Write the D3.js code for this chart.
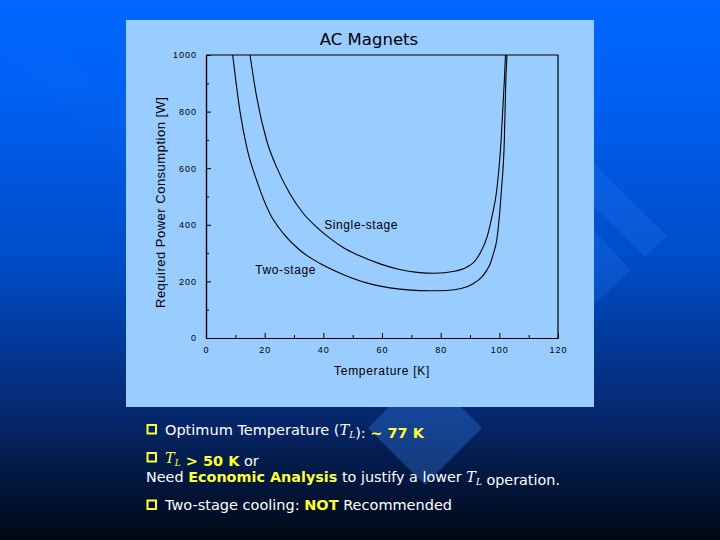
<!DOCTYPE html>
<html>
<head>
<meta charset="utf-8">
<script src="https://cdn.jsdelivr.net/npm/d3@7"></script>
<style>
  body { margin: 0; background: #000; }
  svg { display: block; }
  .tick text { font-family: "Liberation Sans", Arial, sans-serif; }
</style>
</head>
<body>
<script>
var width = 720,
    height = 540;

// chart data
var title = "AC Magnets";
var seriesNames = ["Single-stage", "Two-stage"];
var singleTemp = [15, 17.3, 20.7, 24.1, 28.6, 33.2, 37.7, 42.3, 47, 51.8, 59.6, 66, 72, 78, 84.7, 89, 91.5, 93.4, 95.9, 97.5, 99.1, 100.6, 101.7, 102.1];
var singlePower = [1000, 850, 697, 603, 510, 440, 392, 352, 318, 293, 261, 242, 232, 229, 236, 251, 270, 299, 360, 430, 521, 697, 908, 1000];
var twoTemp = [9.1, 11.6, 13.9, 17.3, 21.8, 26.4, 32, 38.9, 45.5, 55, 62.7, 70, 76, 82, 87, 91.1, 94, 95.7, 97, 98, 99.1, 100.7, 101.7, 102.2, 102.6];
var twoPower = [1000, 800, 674, 556, 439, 369, 310, 263, 230, 194, 177, 169, 167, 168, 175, 192, 215, 239, 265, 299, 345, 521, 697, 908, 1000];
var xTicks = [0, 20, 40, 60, 80, 100, 120];
var xMinor = [10, 30, 50, 70, 90, 110];
var yTicks = [0, 200, 400, 600, 800, 1000];
var yMinor = [100, 300, 500, 700, 900];
var xTitle = "Temperature [K]";
var yTitle = "Required Power Consumption [W]";

var svg = d3.select("body").append("svg")
    .attr("width", width)
    .attr("height", height);

//Background gradient
var defs = svg.append("defs");
var grad = defs.append("linearGradient")
    .attr("id", "bg")
    .attr("x1", 0).attr("y1", 0).attr("x2", 0).attr("y2", 1);
grad.append("stop").attr("offset", "0%").attr("stop-color", "#0066ff");
grad.append("stop").attr("offset", "15%").attr("stop-color", "#0062f6");
grad.append("stop").attr("offset", "50%").attr("stop-color", "#004ac4");
grad.append("stop").attr("offset", "75%").attr("stop-color", "#062a74");
grad.append("stop").attr("offset", "100%").attr("stop-color", "#000814");

svg.append("rect")
    .attr("width", width)
    .attr("height", height)
    .attr("fill", "url(#bg)");

// decoration shapes behind the panel
var deco = [
    [[0, 48], [126, 165], [126, 110], [40, 30]],
    [[520, 90], [667, 236], [645, 257], [500, 115]],
    [[540, 170], [630, 270], [590, 308], [540, 270]],
    [[425, 371], [482, 428], [425, 485], [368, 428]]
];
svg.selectAll("polygon.deco")
    .data(deco)
    .enter().append("polygon")
    .attr("class", "deco")
    .attr("points", function (d) { return d.join(" "); })
    .attr("fill", "#3a8cff")
    .attr("opacity", function (d, i) { return i == 0 ? 0.04 : (i == 3 ? 0.3 : 0.18); });

//Panel
svg.append("rect")
    .attr("x", 126).attr("y", 20)
    .attr("width", 468).attr("height", 387)
    .attr("fill", "#99ccff");

var x = d3.scaleLinear().domain([0, 120]).range([206, 558]);
var y = d3.scaleLinear().domain([0, 1000]).range([338, 55]);

var g = svg.append("g");

// frame top/right
g.append("path")
    .attr("d", "M" + x(0) + "," + y(1000) + "H" + x(120) + "V" + y(0))
    .attr("fill", "none")
    .attr("stroke", "#000")
    .attr("stroke-width", 1.2);

// axes
function styleAxis(sel) {
    sel.select(".domain").attr("stroke", "#000").attr("stroke-width", 1.2);
    sel.selectAll(".tick line").attr("stroke", "#000");
    sel.selectAll(".tick text")
        .attr("font-size", 9)
        .attr("fill", "#000")
        .style("letter-spacing", "1px");
}

g.append("g")
    .attr("transform", "translate(0," + y(0) + ")")
    .call(d3.axisBottom(x).tickValues(xMinor).tickSize(-3).tickFormat("").tickSizeOuter(0))
    .call(styleAxis);
g.append("g")
    .attr("transform", "translate(0," + y(0) + ")")
    .call(d3.axisBottom(x).tickValues(xTicks).tickSize(-5).tickPadding(9).tickSizeOuter(0).tickFormat(d3.format("d")))
    .call(styleAxis);

g.append("g")
    .attr("transform", "translate(" + x(0) + ",0)")
    .call(d3.axisLeft(y).tickValues(yMinor).tickSize(-3).tickFormat("").tickSizeOuter(0))
    .call(styleAxis);
g.append("g")
    .attr("transform", "translate(" + x(0) + ",0)")
    .call(d3.axisLeft(y).tickValues(yTicks).tickSize(-5).tickPadding(9).tickSizeOuter(0).tickFormat(d3.format("d")))
    .call(styleAxis);

// curves
var line = d3.line()
    .x(function (d) { return x(d[0]); })
    .y(function (d) { return y(d[1]); })
    .curve(d3.curveMonotoneX);

var series = [
    d3.zip(singleTemp, singlePower),
    d3.zip(twoTemp, twoPower)
];

g.selectAll("path.curve")
    .data(series)
    .enter().append("path")
    .attr("class", "curve")
    .attr("d", line)
    .attr("fill", "none")
    .attr("stroke", "#000")
    .attr("stroke-width", 1.1);

// series labels
var labelAt = [[40.3, 400], [16.8, 240]];
g.selectAll("text.slabel")
    .data(seriesNames)
    .enter().append("text")
    .attr("class", "slabel")
    .attr("x", function (d, i) { return x(labelAt[i][0]); })
    .attr("y", function (d, i) { return y(labelAt[i][1]); })
    .attr("dy", "0.35em")
    .attr("font-family", "Liberation Sans, Arial, sans-serif")
    .attr("font-size", 12)
    .style("letter-spacing", "0.6px")
    .text(function (d) { return d; });

// titles
svg.append("text")
    .attr("x", 369).attr("y", 45)
    .attr("text-anchor", "middle")
    .attr("font-family", "DejaVu Sans, sans-serif")
    .attr("font-size", 16.5)
    .text(title);

svg.append("text")
    .attr("x", (x(0) + x(120)) / 2).attr("y", 375)
    .attr("text-anchor", "middle")
    .attr("font-family", "Liberation Sans, Arial, sans-serif")
    .attr("font-size", 12)
    .style("letter-spacing", "0.7px")
    .text(xTitle);

svg.append("text")
    .attr("transform", "translate(165," + (308 + 97) / 2 + ") rotate(-90)")
    .attr("text-anchor", "middle")
    .attr("font-family", "Liberation Sans, Arial, sans-serif")
    .attr("font-size", 13)
    .attr("textLength", 211)
    .attr("lengthAdjust", "spacing")
    .text(yTitle);

// bullet text below the chart
var yellow = "#ffff33";
var notes = svg.append("g")
    .attr("font-family", "DejaVu Sans, sans-serif")
    .attr("font-size", 14.5)
    .attr("fill", "#fff");

[434.5, 462.5, 510].forEach(function (by) {
    notes.append("rect")
        .attr("x", 147.5).attr("y", by - 9.5)
        .attr("width", 8.5).attr("height", 8.5)
        .attr("fill", "none")
        .attr("stroke", yellow)
        .attr("stroke-width", 2);
});

function tl(t, color) {
    t.append("tspan").attr("font-family", "DejaVu Serif, serif").attr("font-style", "italic").attr("fill", color).text("T");
    t.append("tspan").attr("font-family", "DejaVu Serif, serif").attr("font-style", "italic").attr("fill", color)
        .attr("font-size", 9).attr("dy", 3).text("L");
    t.append("tspan").attr("dy", -3).text("");
}

var t1 = notes.append("text").attr("x", 165).attr("y", 434.5);
t1.append("tspan").text("Optimum Temperature (");
tl(t1, "#fff");
t1.append("tspan").text("): ");
t1.append("tspan").attr("fill", yellow).attr("font-weight", "bold").text("~ 77 K");

var t2 = notes.append("text").attr("x", 165).attr("y", 462.5);
tl(t2, yellow);
t2.append("tspan").attr("fill", yellow).attr("font-weight", "bold").text(" > 50 K");
t2.append("tspan").text(" or");

var t3 = notes.append("text").attr("x", 146).attr("y", 481.5).attr("textLength", 414).attr("lengthAdjust", "spacingAndGlyphs");
t3.append("tspan").text("Need ");
t3.append("tspan").attr("fill", yellow).attr("font-weight", "bold").text("Economic Analysis");
t3.append("tspan").text(" to justify a lower ");
tl(t3, "#fff");
t3.append("tspan").text(" operation.");

var t4 = notes.append("text").attr("x", 165).attr("y", 510);
t4.append("tspan").text("Two-stage cooling: ");
t4.append("tspan").attr("fill", yellow).attr("font-weight", "bold").text("NOT");
t4.append("tspan").text(" Recommended");
</script>
</body>
</html>
